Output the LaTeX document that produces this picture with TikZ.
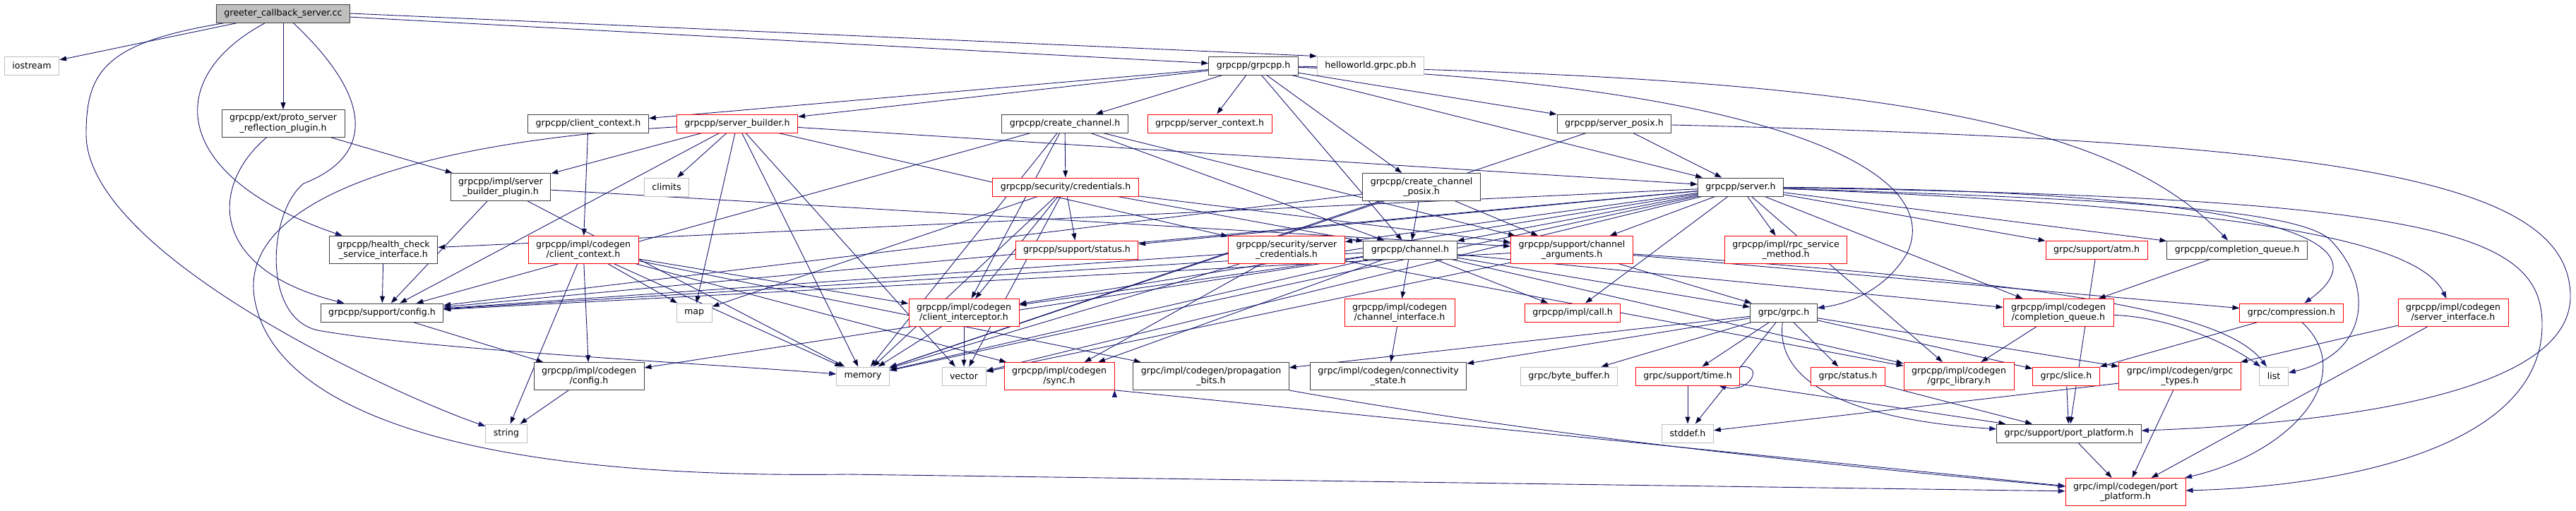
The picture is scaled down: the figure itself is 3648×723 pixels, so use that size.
\documentclass[tikz,border=0pt]{standalone}
\usepackage{fontspec}
\setmainfont{DejaVu Sans}
\usetikzlibrary{arrows.meta,backgrounds}
\definecolor{edgeblue}{HTML}{191970}

\begin{document}
\begin{tikzpicture}[x=1pt, y=1pt,
	file/.style={draw=black!75, fill=white, line width=0.9pt, align=center,
		inner xsep=11pt, inner ysep=6pt, minimum height=26pt,
		font=\fontsize{12.6}{14.5}\selectfont},
	sys/.style={file, draw=black!25},
	trunc/.style={file, draw=red},
	root/.style={file, fill=black!25},
	dep/.style={->, >={Triangle[length=10pt, width=7pt]}, draw=edgeblue, line width=0.9pt}]
	\useasboundingbox (0,0) rectangle (3648,-723);

	\node[root] (0) at (401,-19) {greeter\_callback\_server.cc};
	\node[sys] (1) at (45,-93) {iostream};
	\node[file] (2) at (1775,-93) {grpcpp/grpcpp.h};
	\node[sys] (3) at (1941,-93) {helloworld.grpc.pb.h};
	\node[file] (4) at (401,-175) {grpcpp/ext/proto\_server\\\_reflection\_plugin.h};
	\node[file] (5) at (833,-175) {grpcpp/client\_context.h};
	\node[trunc] (6) at (1044,-175) {grpcpp/server\_builder.h};
	\node[file] (7) at (1508,-175) {grpcpp/create\_channel.h};
	\node[trunc] (8) at (1713,-175) {grpcpp/server\_context.h};
	\node[file] (9) at (2286,-175) {grpcpp/server\_posix.h};
	\node[file] (10) at (709,-265) {grpcpp/impl/server\\\_builder\_plugin.h};
	\node[sys] (11) at (944,-265) {climits};
	\node[trunc] (12) at (1509,-265) {grpcpp/security/credentials.h};
	\node[file] (13) at (2013,-265) {grpcpp/create\_channel\\\_posix.h};
	\node[file] (14) at (2465,-265) {grpcpp/server.h};
	\node[file] (15) at (543,-354) {grpcpp/health\_check\\\_service\_interface.h};
	\node[trunc] (16) at (826,-354) {grpcpp/impl/codegen\\/client\_context.h};
	\node[trunc] (17) at (1525,-354) {grpcpp/support/status.h};
	\node[trunc] (18) at (1822,-354) {grpcpp/security/server\\\_credentials.h};
	\node[file] (19) at (1997,-354) {grpcpp/channel.h};
	\node[trunc] (20) at (2226,-354) {grpcpp/support/channel\\\_arguments.h};
	\node[trunc] (21) at (2529,-354) {grpcpp/impl/rpc\_service\\\_method.h};
	\node[trunc] (22) at (2969,-354) {grpc/support/atm.h};
	\node[file] (23) at (3168,-354) {grpcpp/completion\_queue.h};
	\node[file] (24) at (541,-443) {grpcpp/support/config.h};
	\node[sys] (25) at (983,-443) {map};
	\node[trunc] (26) at (1365,-443) {grpcpp/impl/codegen\\/client\_interceptor.h};
	\node[trunc] (27) at (1982,-443) {grpcpp/impl/codegen\\/channel\_interface.h};
	\node[trunc] (28) at (2227,-443) {grpcpp/impl/call.h};
	\node[file] (29) at (2526,-443) {grpc/grpc.h};
	\node[trunc] (30) at (2915,-443) {grpcpp/impl/codegen\\/completion\_queue.h};
	\node[trunc] (31) at (3245,-443) {grpc/compression.h};
	\node[trunc] (32) at (3474,-443) {grpcpp/impl/codegen\\/server\_interface.h};
	\node[file] (33) at (834,-533) {grpcpp/impl/codegen\\/config.h};
	\node[sys] (34) at (1222,-533) {memory};
	\node[sys] (35) at (1365,-533) {vector};
	\node[trunc] (36) at (1500,-533) {grpcpp/impl/codegen\\/sync.h};
	\node[file] (37) at (1715,-533) {grpc/impl/codegen/propagation\\\_bits.h};
	\node[file] (38) at (1966,-533) {grpc/impl/codegen/connectivity\\\_state.h};
	\node[sys] (39) at (2222,-533) {grpc/byte\_buffer.h};
	\node[trunc] (40) at (2390,-533) {grpc/support/time.h};
	\node[trunc] (41) at (2617,-533) {grpc/status.h};
	\node[trunc] (42) at (2774,-533) {grpcpp/impl/codegen\\/grpc\_library.h};
	\node[trunc] (43) at (2926,-533) {grpc/slice.h};
	\node[trunc] (44) at (3087,-533) {grpc/impl/codegen/grpc\\\_types.h};
	\node[sys] (45) at (3220,-533) {list};
	\node[sys] (46) at (717,-614) {string};
	\node[sys] (47) at (2390,-614) {stddef.h};
	\node[file] (48) at (2930,-614) {grpc/support/port\_platform.h};
	\node[trunc] (49) at (3010,-697) {grpc/impl/codegen/port\\\_platform.h};

	\begin{scope}[on background layer]
	\fill[white] (0,0) rectangle (3648,-723);
	\path[dep]
		(0) edge (1)
		(0) edge (2)
		(0.east) edge (3.north west)
		(0) edge (4)
		(2) edge (5)
		(2) edge (6)
		(2) edge (7)
		(2) edge (8)
		(2) edge (9)
		(2) edge (13)
		(2) edge (14)
		(2) edge (19)
		(4) edge (10)
		(5) edge (16)
		(6) edge (10)
		(6) edge (11)
		(6) edge (14)
		(6) edge (18)
		(6) edge (24)
		(6) edge (25)
		(6) edge (34)
		(6) edge (35)
		(7) edge (12)
		(7) edge (19)
		(7) edge (20)
		(7) edge (24)
		(7) edge (26)
		(7) edge (34)
		(9) edge (14)
		(9) edge (34)
		(10) edge (20)
		(10) edge (24)
		(10) edge (34)
		(12) edge (17)
		(12) edge (19)
		(12) edge (20)
		(12) edge (25)
		(12) edge (26)
		(12) edge (34)
		(12) edge (35)
		(13) edge (19)
		(13) edge (20)
		(13) edge (24)
		(13) edge (34)
		(14) edge (15)
		(14) edge (17)
		(14) edge (18)
		(14) edge (19)
		(14) edge (20)
		(14) edge (21)
		(14) edge (22)
		(14) edge (23)
		(14) edge (24)
		(14) edge (26)
		(14) edge (28)
		(14) edge (30)
		(14) edge (34)
		(14) edge (35)
		(14) edge (42)
		(15) edge (24)
		(16) edge (25)
		(16) edge (26)
		(16) edge (33)
		(16) edge (34)
		(16) edge (36)
		(16) edge (37)
		(16) edge (46)
		(18) edge (24)
		(18) edge (34)
		(18) edge (36)
		(18) edge (42)
		(19) edge (24)
		(19) edge (26)
		(19) edge (27)
		(19) edge (28)
		(19) edge (29)
		(19) edge (30)
		(19) edge (33)
		(19) edge (34)
		(19) edge (36)
		(19) edge (42)
		(20) edge (24)
		(20) edge (29)
		(20) edge (31)
		(20) edge (35)
		(22) edge (48)
		(23) edge (30)
		(24) edge (33)
		(26) edge (34)
		(26) edge (35)
		(27) edge (38)
		(29) edge (37)
		(29) edge (38)
		(29) edge (39)
		(29) edge (40)
		(29) edge (41)
		(29) edge (43)
		(29) edge (44)
		(29) edge (47)
		(30) edge (42)
		(31) edge (43)
		(32) edge (44)
		(32) edge (49)
		(33) edge (46)
		(36.south east) edge (49)
		(40) edge (47)
		(40) edge (48)
		(41) edge (48)
		(43) edge (48)
		(44) edge (47)
		(44) edge (49)
		(48) edge (49);

	\draw[dep] (40.north east) .. controls (2500,-516) and (2478,-558) .. ([xshift=-30pt]40.south east);
	\draw[dep] (0) .. controls (150,-60) and (122,-100) .. (122,-190) .. controls (122,-360) and (560,-560) .. (46);
	\draw[dep] (0) .. controls (230,-110) and (240,-250) .. (15);
	\draw[dep] (0) .. controls (540,-150) and (520,-225) .. (430,-260) .. controls (380,-300) and (370,-450) .. (450,-468) .. controls (600,-495) and (1000,-515) .. (34);
	\draw[dep] (2) .. controls (2700,-110) and (3000,-180) .. (23);
	\draw[dep] (2) .. controls (2500,-120) and (2760,-240) .. (2700,-360) .. controls (2670,-410) and (2620,-430) .. (29);
	\draw[dep] (4) .. controls (300,-260) and (290,-380) .. (24);
	\draw[dep] (6) .. controls (600,-200) and (340,-280) .. (360,-420) .. controls (380,-560) and (600,-680) .. (1200,-672) -- (49);
	\draw[dep] (9) .. controls (3300,-200) and (3640,-250) .. (3640,-420) .. controls (3640,-560) and (3300,-600) .. (48);
	\draw[dep] (14) .. controls (3450,-280) and (3600,-330) .. (3600,-460) .. controls (3600,-640) and (3300,-690) .. (49);
	\draw[dep] (14) .. controls (3150,-270) and (3400,-330) .. (31);
	\draw[dep] (14) .. controls (3100,-290) and (3420,-330) .. (32);
	\draw[dep] (14) .. controls (2900,-280) and (3250,-290) .. (3300,-340) .. controls (3360,-400) and (3360,-500) .. (45);
	\draw[dep] (20) .. controls (2900,-400) and (3150,-440) .. (45);
	\draw[dep] (29) .. controls (2510,-570) and (2700,-600) .. (48);
	\draw[dep] (30) .. controls (3080,-450) and (3160,-490) .. (45);
	\draw[dep] (31) .. controls (3340,-530) and (3250,-640) .. (49);
	\draw[dep] (37.south east) .. controls (2200,-620) and (2600,-660) .. (49);
	\end{scope}
\end{tikzpicture}
\end{document}
